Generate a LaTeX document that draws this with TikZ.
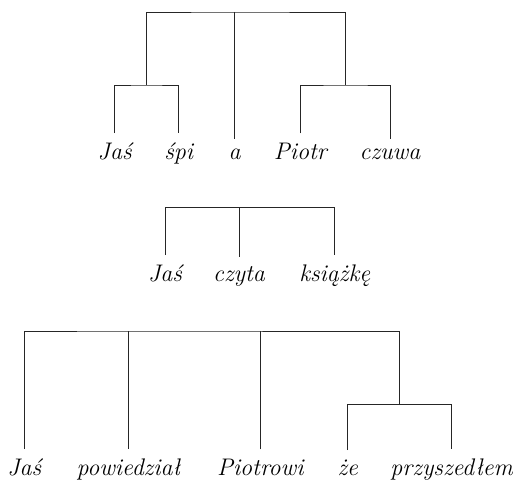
\documentclass[tikz,border=0pt]{standalone}
\usepackage{fontspec}
\usepackage{tikz}
\tikzstyle{word}=[anchor=base,inner xsep=0pt,inner ysep=9pt,font=\itshape\fontsize{24}{28}\selectfont]
\tikzstyle{branch}=[line width=.7pt,black!85]

\begin{document}
\begin{tikzpicture}[x=1pt,y=-1pt]
\useasboundingbox (0,0) rectangle (513,481);

% Jas spi a Piotr czuwa
\node[word] (jas1) at (114.7,159) {Jaś};
\node[word] (spi) at (178.7,159) {śpi};
\node[word] (a) at (234.7,159) {a};
\node[word] (piotr) at (300.3,159) {Piotr};
\node[word] (czuwa) at (390,159) {czuwa};

\coordinate (t1) at (234.7,12);
\coordinate (l1) at (146.7,85);
\coordinate (r1) at (345.7,85);

\draw[branch] (l1) |- (t1) -| (r1);
\draw[branch] (t1) -- (a.north);
\draw[branch] (jas1.north) |- (l1) -| (spi.north);
\draw[branch] (piotr.north) |- (r1) -| (czuwa.north);

% Jas czyta ksiazke
\node[word] (jas2) at (165,281) {Jaś};
\node[word] (czyta) at (239,281) {czyta};
\node[word] (ksiazke) at (334.7,281) {książkę};

\coordinate (t2) at (239,207.7);

\draw[branch] (jas2.north) |- (t2) -| (ksiazke.north);
\draw[branch] (t2) -- (czyta.north);

% Jas powiedzial Piotrowi ze przyszedlem
\node[word] (jas3) at (24.3,475) {Jaś};
\node[word] (powiedzial) at (128.3,475) {powiedział};
\node[word] (piotrowi) at (260.3,475) {Piotrowi};
\node[word] (ze) at (347.7,475) {że};
\node[word] (przyszedlem) at (451.7,475) {przyszedłem};

\coordinate (t3) at (128.3,331);
\coordinate (z3) at (399.3,404.3);

\draw[branch] (jas3.north) |- (t3) -| (z3);
\draw[branch] (t3) -- (powiedzial.north);
\draw[branch] (piotrowi.north) -- (piotrowi.north |- t3);
\draw[branch] (ze.north) |- (z3) -| (przyszedlem.north);

\end{tikzpicture}
\end{document}
